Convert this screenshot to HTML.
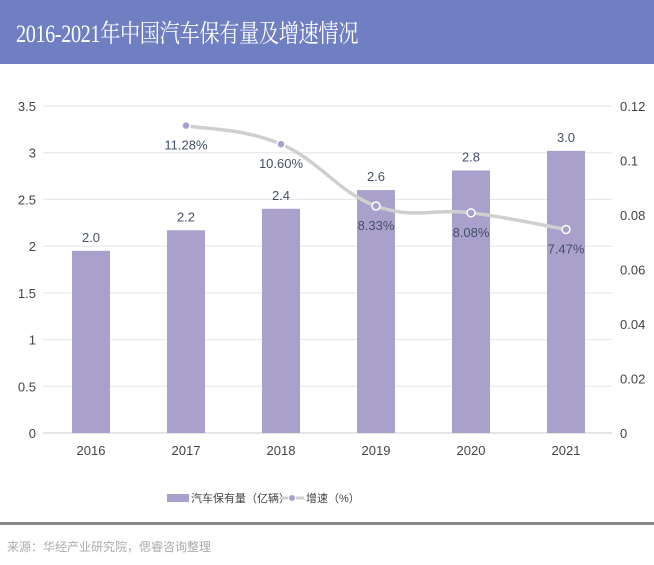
<!DOCTYPE html>
<html><head><meta charset="utf-8"><style>
body{margin:0;width:654px;height:565px;background:#fff;overflow:hidden;font-family:"Liberation Sans","Noto Sans CJK SC",sans-serif}
#hdr{position:absolute;left:0;top:0;width:654px;height:64px;background:#6f7fc2}
#ttl{position:absolute;left:16px;top:14px;color:#fff;font-family:"Liberation Serif","Noto Serif CJK SC",serif;font-size:25px;letter-spacing:-0.5px;transform:scaleX(0.81);transform-origin:0 0;white-space:nowrap}
#sep{position:absolute;left:0;top:522px;width:654px;height:3px;background:#888}
#src{position:absolute;left:7px;top:538px;font-size:12px;color:#aaa}
</style></head><body>
<div id="hdr"><div id="ttl">2016-2021年中国汽车保有量及增速情况</div></div>
<svg id="c" width="654" height="565" style="position:absolute;left:0;top:0"></svg>
<div id="sep"></div>
<div id="src">来源：华经产业研究院，偲睿咨询整理</div>
<script>
const years=["2016","2017","2018","2019","2020","2021"];
const stock=[1.95,2.17,2.4,2.6,2.81,3.02];
const stockLabels=["2.0","2.2","2.4","2.6","2.8","3.0"];
const growth=[null,0.1128,0.106,0.0833,0.0808,0.0747];
const growthLabels=["","11.28%","10.60%","8.33%","8.08%","7.47%"];
const leftTicks=[0,0.5,1,1.5,2,2.5,3,3.5];
const rightTicks=[0,0.02,0.04,0.06,0.08,0.1,0.12];
const rightTickLabels=["0","0.02","0.04","0.06","0.08","0.1","0.12"];
const svg=document.getElementById('c');const NS="http://www.w3.org/2000/svg";
const X0=43,X1=612,Y0=433,Y1=106;
const yL=v=>Y0-(v/3.5)*(Y0-Y1);
const yR=v=>Y0-(v/0.12)*(Y0-Y1);
const step=95,x=i=>91+i*step;
function mk(t,a,txt){const e=document.createElementNS(NS,t);for(const k in a)e.setAttribute(k,a[k]);if(txt!=null)e.textContent=txt;svg.appendChild(e);return e;}
leftTicks.forEach((v,i)=>{
 const g=mk('line',{x1:X0,x2:X1,y1:yL(v),y2:yL(v),stroke:i==0?'#ccc':'#e4e4ea','stroke-width':1});
 
 
 const t=mk('text',{x:36,y:yL(v)+5,'text-anchor':'end','font-size':13,fill:'#444'},String(v));
 
 
});
rightTicks.forEach((v,i)=>{
 const t=mk('text',{x:620,y:yR(v)+5,'font-size':13,fill:'#444'},rightTickLabels[i]);
 
 
});
years.forEach((yr,i)=>{
 const b=mk('rect',{x:x(i)-19,y:yL(stock[i]),width:38,height:Y0-yL(stock[i]),fill:'#a9a0cc'});
 
 
 const l=mk('text',{x:x(i),y:yL(stock[i])-9,'text-anchor':'middle','font-size':13,fill:'#445066'},stockLabels[i]);
 
 
 const t=mk('text',{x:x(i),y:455,'text-anchor':'middle','font-size':13,fill:'#444'},yr);
 
 
});
const pts=[];growth.forEach((v,i)=>{if(v!=null)pts.push([x(i),yR(v),i]);});
let d='M'+pts[0][0]+','+pts[0][1];
for(let k=0;k<pts.length-1;k++){const p0=pts[Math.max(0,k-1)],p1=pts[k],p2=pts[k+1],p3=pts[Math.min(pts.length-1,k+2)];
 const s=0.2;d+=` C${p1[0]+(p2[0]-p0[0])*s},${p1[1]+(p2[1]-p0[1])*s} ${p2[0]-(p3[0]-p1[0])*s},${p2[1]-(p3[1]-p1[1])*s} ${p2[0]},${p2[1]}`;}
const ln=mk('path',{d:d,fill:'none',stroke:'#cfcfcf','stroke-width':3.5});


pts.forEach(p=>{
 const c=mk('circle',{cx:p[0],cy:p[1],r:4,fill:'#a9a0cc',stroke:'#fff','stroke-width':1.5});
 
 
 const t=mk('text',{x:p[0],y:p[1]+24,'text-anchor':'middle','font-size':13,fill:'#445066'},growthLabels[p[2]]);
 
 
});
const lg1=mk('rect',{x:167,y:494,width:22,height:8,fill:'#a9a0cc'});


const lt1=mk('text',{x:191,y:502,'font-size':11,fill:'#444'},'汽车保有量（亿辆）');


const lg2=mk('line',{x1:280,x2:304,y1:498,y2:498,stroke:'#cfcfcf','stroke-width':3});


const lc=mk('circle',{cx:292,cy:498,r:3.5,fill:'#a9a0cc',stroke:'#fff'});


const lt2=mk('text',{x:306,y:502,'font-size':11,fill:'#444'},'增速（%）');


</script>
</body></html>
